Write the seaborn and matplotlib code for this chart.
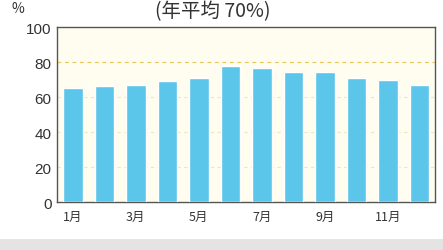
import matplotlib
matplotlib.use("Agg")
import matplotlib.pyplot as plt
import seaborn as sns
import pandas as pd

months = ["1月", "2月", "3月", "4月", "5月", "6月", "7月", "8月", "9月", "10月", "11月", "12月"]
humidity = [65, 66.5, 67, 69, 71, 77.5, 76.5, 74.5, 74.5, 71, 70, 67]
yticks = [0, 20, 40, 60, 80, 100]
title = "(年平均 70%)"

sns.set_theme(style="white")
plt.rcParams["font.family"] = ["Noto Sans CJK JP", "DejaVu Sans"]

df = pd.DataFrame({"month": months, "humidity": humidity})

fig = plt.figure(figsize=(4.43, 2.51), dpi=100)
fig.patch.set_facecolor("white")
ax = fig.add_axes([0.129, 0.191, 0.853, 0.697])
ax.set_facecolor("#fffdf0")

sns.barplot(data=df, x="month", y="humidity", color="#5cc5ea", width=0.62,
            saturation=1, ax=ax, zorder=3)

# light guide lines, 80 stronger
for v in [20, 40, 60]:
    ax.axhline(v, color="#efe6c0", lw=0.8, ls=(0, (3, 3)), zorder=1)
ax.axhline(80, color="#e8c860", lw=0.9, ls=(0, (3, 3)), zorder=1)

ax.set_ylim(0, 100)
ax.set_xlim(-0.5, 11.5)
ax.set_yticks(yticks)
ax.set_yticklabels([str(t) for t in yticks], fontsize=11, color="#333333",
                   family=["Liberation Sans", "DejaVu Sans"])
ax.set_xticks(range(0, 12, 2))
ax.set_xticklabels(months[::2], fontsize=9, color="#333333")
ax.tick_params(axis="y", length=0, pad=4)
ax.tick_params(axis="x", length=0, pad=6)
ax.set_xlabel("")
ax.set_ylabel("")
for s in ax.spines.values():
    s.set_color("#555555")
    s.set_linewidth(1.0)

fig.text(0.04, 0.965, "%", fontsize=10, color="#333333", ha="center", va="center")
fig.text(0.48, 0.955, title, fontsize=14, color="#333333", ha="center", va="center")

# grey strip along the bottom edge
fig.add_artist(plt.Rectangle((0, 0), 1, 0.045, transform=fig.transFigure,
                             color="#e4e4e4", lw=0))

fig.savefig("out.png", dpi=100)
